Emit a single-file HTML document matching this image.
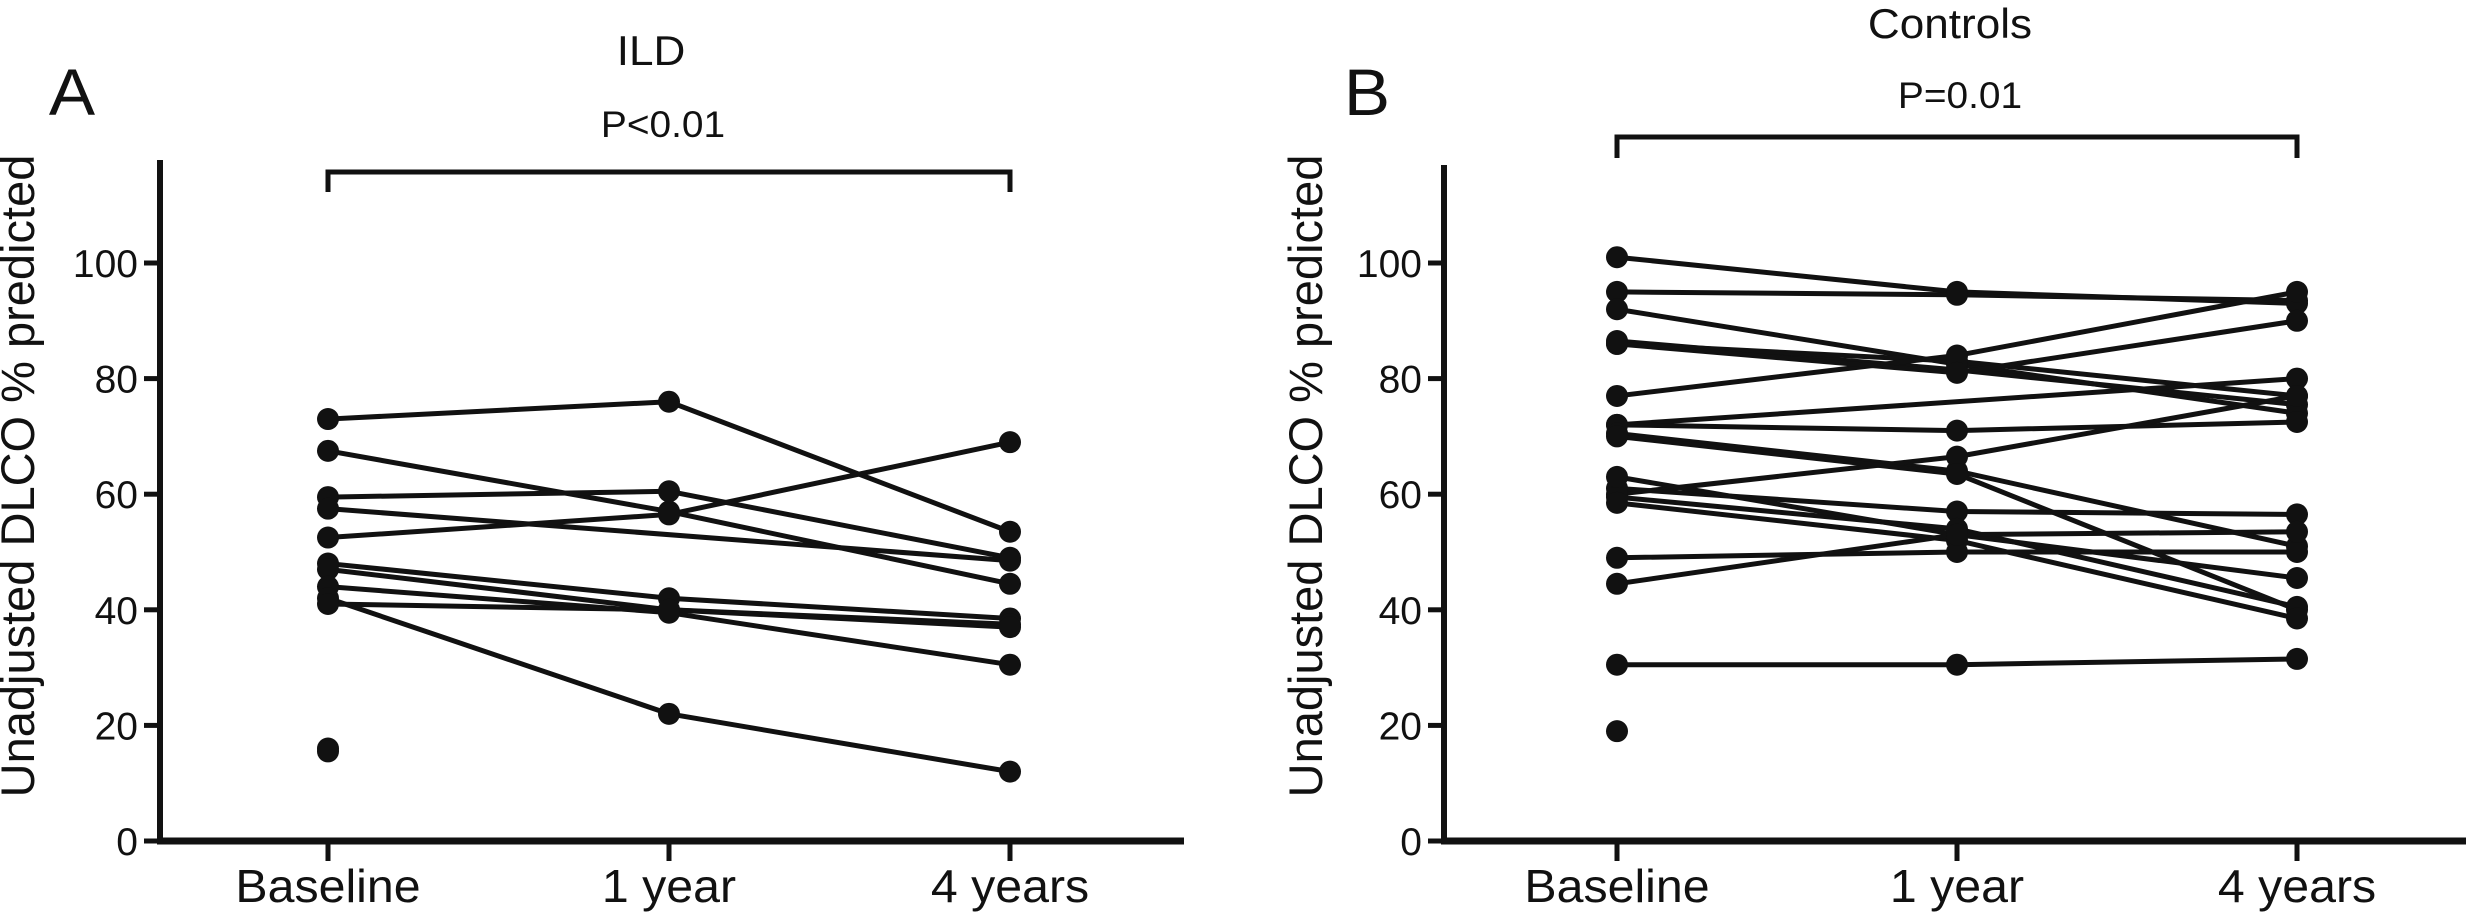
<!DOCTYPE html>
<html><head><meta charset="utf-8"><style>
html,body{margin:0;padding:0;background:#fff;}
svg{display:block;}
text{font-family:"Liberation Sans",sans-serif;fill:#111;}
</style></head><body>
<svg id="chart" width="2475" height="921" viewBox="0 0 2475 921"></svg>
<script>
const categories = ["Baseline","1 year","4 years"];
const yTicks = [0,20,40,60,80,100];
// ILD panel: each subject [baseline, 1 year, 4 years] (null = missing)
const ildSeries = [
 [73,76,53.5],[67.5,57,44.5],[59.5,60.5,49],[57.5,null,48.5],[52.5,56.5,69],
 [48,42,38.5],[47,40,37.5],[44,39.5,30.5],[42,22,12],[41,40,37],
 [16,null,null],[15.5,null,null]
];
// Controls panel
const ctrlSeries = [
 [101,95,93],[95,94.5,93.5],[92,82.5,74],[86.5,81.5,75.5],[86,83,77],
 [77,84,95],[72,null,80],[72,71,72.5],[70.5,64,51],[60,66.5,77],
 [70,63.5,40],[61,57,56.5],[59.5,54,40.5],[58.5,52,38.5],[63,53,45.5],
 [49,50,50],[44.5,53,53.5],[30.5,30.5,31.5],[19,null,null],[86,81,90]
];
const ildTitle = "ILD", ildP = "P<0.01";
const ctrlTitle = "Controls", ctrlP = "P=0.01";

const NS="http://www.w3.org/2000/svg";
const svg=document.getElementById('chart');
function mk(tag,attrs,parent,txt){const e=document.createElementNS(NS,tag);for(const k in attrs)e.setAttribute(k,attrs[k]);if(txt!==undefined)e.textContent=txt;(parent||svg).appendChild(e);return e;}
function ctext(parent,x,y,anchor,size,txt,sx){
  return mk('text',{x:0,y:0,'text-anchor':anchor,'font-size':size,transform:`translate(${x},${y}) scale(${sx},1)`},parent,txt);
}

function panel(cfg){
  const g=mk('g',{});
  
  
  const y0=841, y100=263;
  const ys=v=>y0-(v/100)*(y0-y100);
  const xs=i=>cfg.x0+i*cfg.dx;
  const ax=mk('line',{x1:cfg.axX,y1:cfg.axTop,x2:cfg.axX,y2:y0+3,stroke:'#111','stroke-width':6},g);
  
  
  const xa=mk('line',{x1:cfg.axX-3,y1:y0,x2:cfg.axEnd,y2:y0,stroke:'#111','stroke-width':7},g);
  
  
  yTicks.forEach(t=>{
    mk('line',{x1:cfg.axX-16,y1:ys(t),x2:cfg.axX,y2:ys(t),stroke:'#111','stroke-width':5},g);
    const tl=ctext(g,cfg.axX-22,ys(t)+14,'end',39,String(t),1.0);
    
    
  });
  categories.forEach((c,i)=>{
    mk('line',{x1:xs(i),y1:y0,x2:xs(i),y2:y0+20,stroke:'#111','stroke-width':5},g);
    const xl=ctext(g,xs(i),902,'middle',46,c,1.05);
    
    
  });
  const yt=mk('text',{x:0,y:0,'text-anchor':'middle','font-size':47,transform:`translate(${cfg.ytX},${476}) rotate(-90)`},g,'Unadjusted DLCO % predicted');
  
  
  const br=mk('path',{d:`M${xs(0)},${cfg.brB} L${xs(0)},${cfg.brT} L${xs(2)},${cfg.brT} L${xs(2)},${cfg.brB}`,fill:'none',stroke:'#111','stroke-width':5},g);
  
  
  const pt=ctext(g,cfg.pX,cfg.pY,'middle',37,cfg.p,1.05);
  
  
  const tt=ctext(g,cfg.tX,cfg.tY,'middle',42,cfg.title,1.05);
  
  
  const lt=ctext(g,cfg.lX,cfg.lY,'middle',66,cfg.letter,1.05);
  
  
  cfg.series.forEach(s=>{
    const pts=s.map((v,i)=>v==null?null:[xs(i),ys(v)]).filter(p=>p);
    if(pts.length>1){
      const pl=mk('polyline',{points:pts.map(p=>p.join(',')).join(' '),fill:'none',stroke:'#111','stroke-width':5,'stroke-linejoin':'round'},g);
      
      
    }
    pts.forEach(p=>{
      const c=mk('ellipse',{cx:p[0],cy:p[1],rx:11,ry:11,fill:'#111'},g);
      
      
    });
  });
}
panel({id:'ild',series:ildSeries,title:ildTitle,p:ildP,letter:'A',axX:160,axTop:160,axEnd:1184,x0:328,dx:341,
  ytX:34,brT:172,brB:192,pX:663,pY:137,tX:651,tY:65,lX:72,lY:115});
panel({id:'controls',series:ctrlSeries,title:ctrlTitle,p:ctrlP,letter:'B',axX:1444,axTop:165,axEnd:2466,x0:1617,dx:340,
  ytX:1322,brT:137,brB:158,pX:1960,pY:108,tX:1950,tY:38,lX:1367,lY:115});
</script>
</body></html>
